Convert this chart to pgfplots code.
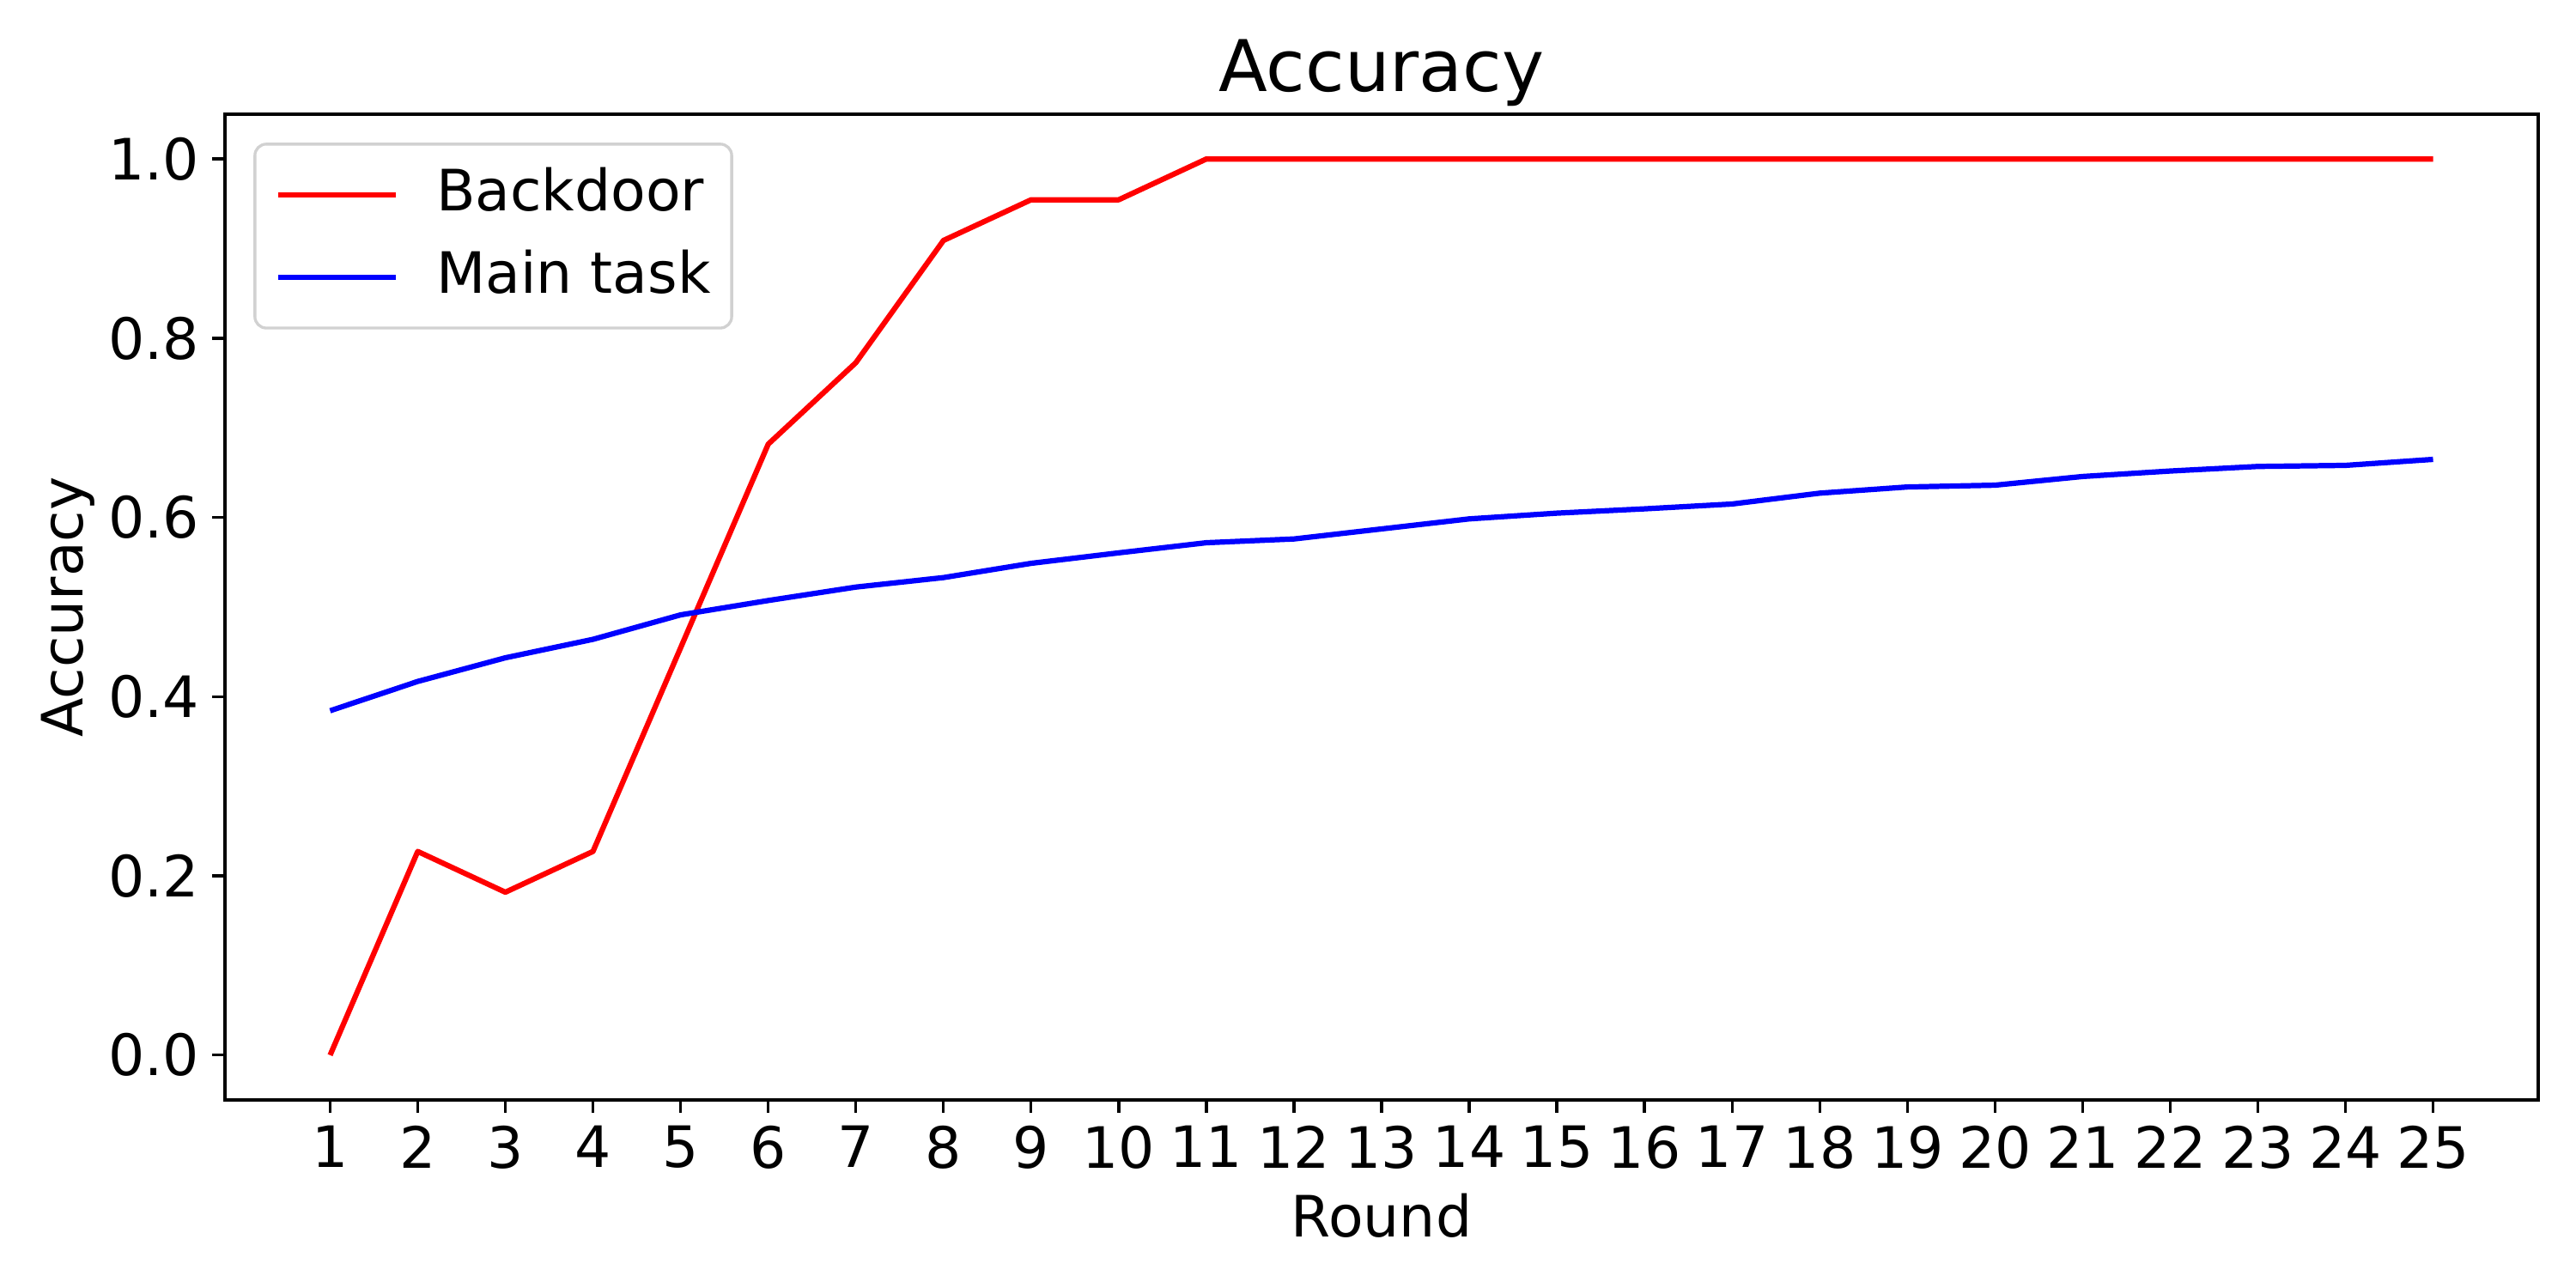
\documentclass[border=0pt]{standalone}
\usepackage{fontspec}
\setmainfont{DejaVu Sans}
\usepackage{pgfplots}
\pgfplotsset{compat=1.18}
\begin{document}
\begin{tikzpicture}
\useasboundingbox (0,0) rectangle (10in,5in);
\begin{axis}[
  at={(0.8733in,0.73in)}, anchor=south west,
  scale only axis, width=8.98in, height=3.8267in,
  xmin=-0.2, xmax=26.2, ymin=-0.05, ymax=1.05,
  xtick={1,2,...,25}, ytick={0,0.2,0.4,0.6,0.8,1.0},
  tick pos=left, tick align=outside, major tick length=3.5pt,
  every tick/.style={black, line width=0.8pt},
  axis line style={line width=0.8pt},
  /pgf/number format/assume math mode=true,
  yticklabel style={/pgf/number format/.cd, fixed, fixed zerofill, precision=1},
  ticklabel style={font=\fontsize{16}{19.2}\selectfont, inner sep=3.5pt},
  label style={font=\fontsize{16}{19.2}\selectfont},
  ylabel style={xshift=0pt, yshift=-3.2pt},
  title style={font=\fontsize{20}{24}\selectfont, at={(0.5,1)}, anchor=base, yshift=0.3pt},
  title={Accuracy},
  xlabel={Round}, ylabel={Accuracy},
  legend image code/.code={\draw[#1] (0pt,0pt) -- (33pt,0pt);},
  legend cell align=left,
  legend style={at={(0,1)}, anchor=north west, xshift=8pt, yshift=-8pt,
    draw=black!18, line width=0.8pt, rounded corners=3.2pt,
    fill=white, fill opacity=0.8, draw opacity=1, text opacity=1,
    inner xsep=5.9pt, inner ysep=6.4pt,
    font=\fontsize{16}{19.2}\selectfont,
    nodes={inner sep=0pt, text height=12.2pt, text depth=3.4pt},
    row sep=7.6pt,
    /tikz/every odd column/.append style={column sep=10.5pt}},
]
\addplot[red, line width=1.5pt, line join=round] coordinates {
(1,0.0) (2,0.2273) (3,0.1818) (4,0.2273) (5,0.4545) (6,0.6818) (7,0.7727)
(8,0.9091) (9,0.9545) (10,0.9545) (11,1.0) (12,1.0) (13,1.0) (14,1.0)
(15,1.0) (16,1.0) (17,1.0) (18,1.0) (19,1.0) (20,1.0) (21,1.0) (22,1.0)
(23,1.0) (24,1.0) (25,1.0)};
\addlegendentry{Backdoor}
\addplot[blue, line width=1.5pt, line join=round] coordinates {
(1,0.3843) (2,0.4170) (3,0.4434) (4,0.4640) (5,0.4913) (6,0.5073) (7,0.5223)
(8,0.5329) (9,0.5488) (10,0.5605) (11,0.5718) (12,0.5760) (13,0.5872)
(14,0.5984) (15,0.6048) (16,0.6096) (17,0.6150) (18,0.6271) (19,0.6340)
(20,0.6360) (21,0.6457) (22,0.6518) (23,0.6569) (24,0.6581) (25,0.6648)};
\addlegendentry{Main task}
\end{axis}
\end{tikzpicture}
\end{document}
